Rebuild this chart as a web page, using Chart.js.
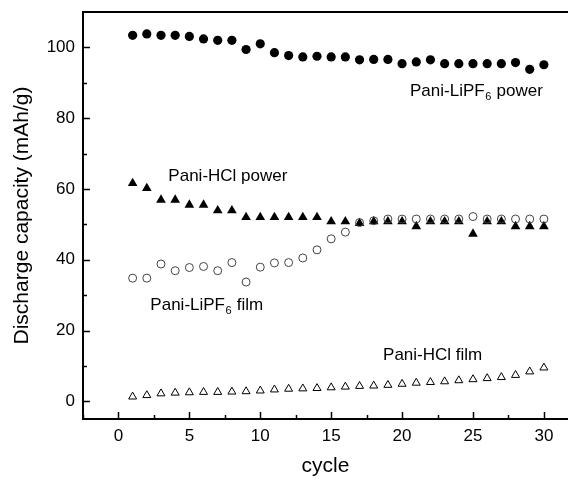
<!DOCTYPE html>
<html>
<head>
<meta charset="utf-8">
<script src="https://cdn.jsdelivr.net/npm/chart.js@4/dist/chart.umd.min.js"></script>
<style>
  html, body { margin: 0; padding: 0; background: #ffffff; }
  #wrap { width: 568px; height: 484px; }
</style>
</head>
<body>
<div id="wrap"><canvas id="c" width="568" height="484"></canvas></div>
<script>
// ---- data ----
const cycles = [1,2,3,4,5,6,7,8,9,10,11,12,13,14,15,16,17,18,19,20,21,22,23,24,25,26,27,28,29,30];
const lipf6Power = [103.4,103.8,103.4,103.4,103.1,102.4,102.0,102.0,99.4,101.0,98.5,97.7,97.3,97.5,97.3,97.3,96.5,96.6,96.6,95.4,95.9,96.5,95.4,95.4,95.4,95.4,95.4,95.7,93.8,95.1];
const hclPower = [61.6,60.2,56.9,56.9,55.5,55.5,53.9,53.9,52.0,52.0,52.0,52.0,52.0,52.0,50.8,50.8,50.3,50.8,50.8,50.8,49.4,50.8,50.8,50.8,47.3,50.8,50.8,49.4,49.4,49.4];
const lipf6Film = [34.8,34.8,38.8,36.9,37.8,38.1,36.9,39.2,33.7,37.9,39.1,39.2,40.5,42.8,45.9,47.8,50.5,51.0,51.5,51.5,51.5,51.5,51.5,51.5,52.2,51.5,51.5,51.5,51.5,51.5];
const hclFilm = [1.3,1.7,2.2,2.4,2.5,2.6,2.6,2.7,2.8,3.0,3.3,3.5,3.6,3.7,3.9,4.1,4.3,4.4,4.6,4.9,5.2,5.4,5.6,5.9,6.2,6.5,6.8,7.4,8.4,9.5];
const xTickLabels = [0,5,10,15,20,25,30];
const yTickLabels = [0,20,40,60,80,100];
const xMinorTicks = [-2.5,2.5,7.5,12.5,17.5,22.5,27.5];
const yMinorTicks = [10,30,50,70,90];
const seriesNames = ['Pani-LiPF6 power','Pani-HCl power','Pani-LiPF6 film','Pani-HCl film'];
// annotation labels: [prefix, subscript, suffix, x (cycle), y (capacity baseline)]
const labels = [
  ['Pani-LiPF', '6', ' power', 20.56, 86.2],
  ['Pani-HCl power', '', '', 3.52, 62.3],
  ['Pani-LiPF', '6', ' film', 2.25, 25.9],
  ['Pani-HCl film', '', '', 18.66, 11.8]
];

const pts = arr => cycles.map((c, i) => ({x: c, y: arr[i]}));

const FONT = "'Liberation Sans', Arial, Helvetica, sans-serif";

const decoPlugin = {
  id: 'deco',
  afterDraw(chart) {
    const ctx = chart.ctx;
    const xs = chart.scales.x, ys = chart.scales.y;
    const a = chart.chartArea;
    ctx.save();
    ctx.strokeStyle = '#000';
    // top border
    ctx.lineWidth = 2;
    ctx.beginPath();
    ctx.moveTo(a.left - 1, a.top);
    ctx.lineTo(a.right, a.top);
    ctx.stroke();
    // inward ticks
    ctx.lineWidth = 1.5;
    ctx.beginPath();
    xTickLabels.forEach(v => {
      const px = Math.round(xs.getPixelForValue(v)) + 0.5;
      ctx.moveTo(px, a.bottom); ctx.lineTo(px, a.bottom - 7);
    });
    xMinorTicks.forEach(v => {
      const px = Math.round(xs.getPixelForValue(v)) + 0.5;
      ctx.moveTo(px, a.bottom); ctx.lineTo(px, a.bottom - 4);
    });
    yTickLabels.forEach(v => {
      const py = Math.round(ys.getPixelForValue(v)) + 0.5;
      ctx.moveTo(a.left, py); ctx.lineTo(a.left + 7, py);
    });
    yMinorTicks.forEach(v => {
      const py = Math.round(ys.getPixelForValue(v)) + 0.5;
      ctx.moveTo(a.left, py); ctx.lineTo(a.left + 4, py);
    });
    ctx.stroke();
    // labels
    ctx.fillStyle = '#000';
    ctx.textBaseline = 'alphabetic';
    ctx.textAlign = 'left';
    labels.forEach(([pre, sub, suf, lx, ly]) => {
      let px = xs.getPixelForValue(lx);
      const py = ys.getPixelForValue(ly);
      ctx.font = '17px ' + FONT;
      ctx.fillText(pre, px, py);
      px += ctx.measureText(pre).width;
      if (sub) {
        ctx.font = '11px ' + FONT;
        ctx.fillText(sub, px + 0.5, py + 4);
        px += ctx.measureText(sub).width + 1;
        ctx.font = '17px ' + FONT;
        ctx.fillText(suf, px, py);
      }
    });
    ctx.restore();
  }
};

const zeroPad = s => { s.paddingLeft = 0; s.paddingRight = 0; s.paddingTop = 0; s.paddingBottom = 0; };

new Chart(document.getElementById('c'), {
  type: 'scatter',
  data: {
    datasets: [
      { label: seriesNames[2], data: pts(lipf6Film), pointStyle: 'circle', pointRadius: 4,
        backgroundColor: 'rgba(0,0,0,0)', borderColor: '#444', pointBorderWidth: 1, order: 0 },
      { label: seriesNames[0], data: pts(lipf6Power), pointStyle: 'circle', pointRadius: 4.6,
        backgroundColor: '#000', borderColor: '#000', pointBorderWidth: 0, order: 1 },
      { label: seriesNames[1], data: pts(hclPower), pointStyle: 'triangle', pointRadius: 5.6,
        backgroundColor: '#000', borderColor: '#000', pointBorderWidth: 0, order: 2 },
      { label: seriesNames[3], data: pts(hclFilm), pointStyle: 'triangle', pointRadius: 4.6,
        backgroundColor: 'rgba(0,0,0,0)', borderColor: '#000', pointBorderWidth: 1, order: 3 }
    ]
  },
  options: {
    responsive: false,
    animation: false,
    events: [],
    layout: { autoPadding: false, padding: { top: 12, right: 0, left: 0, bottom: 0 } },
    plugins: { legend: { display: false }, tooltip: { enabled: false } },
    scales: {
      x: {
        type: 'linear', min: -2.5, max: 31.7,
        grid: { display: false, drawTicks: false },
        border: { display: true, color: '#000', width: 2 },
        afterBuildTicks: s => { s.ticks = xTickLabels.map(v => ({value: v})); },
        afterFit: s => { s.height = 65; zeroPad(s); },
        ticks: { color: '#000', padding: 7, font: { family: FONT, size: 17 }, maxRotation: 0, autoSkip: false },
        title: { display: true, text: 'cycle', color: '#000', font: { family: FONT, size: 21 }, padding: { top: 0, bottom: 5 } }
      },
      y: {
        type: 'linear', min: -5, max: 110,
        grid: { display: false, drawTicks: false },
        border: { display: true, color: '#000', width: 2 },
        afterBuildTicks: s => { s.ticks = yTickLabels.map(v => ({value: v})); },
        afterFit: s => { s.width = 83; zeroPad(s); },
        ticks: { color: '#000', padding: 8, font: { family: FONT, size: 17 }, autoSkip: false },
        title: { display: true, text: 'Discharge capacity (mAh/g)', color: '#000', font: { family: FONT, size: 21 }, padding: { top: 10, bottom: 0 } }
      }
    }
  },
  plugins: [decoPlugin]
});
</script>
</body>
</html>
